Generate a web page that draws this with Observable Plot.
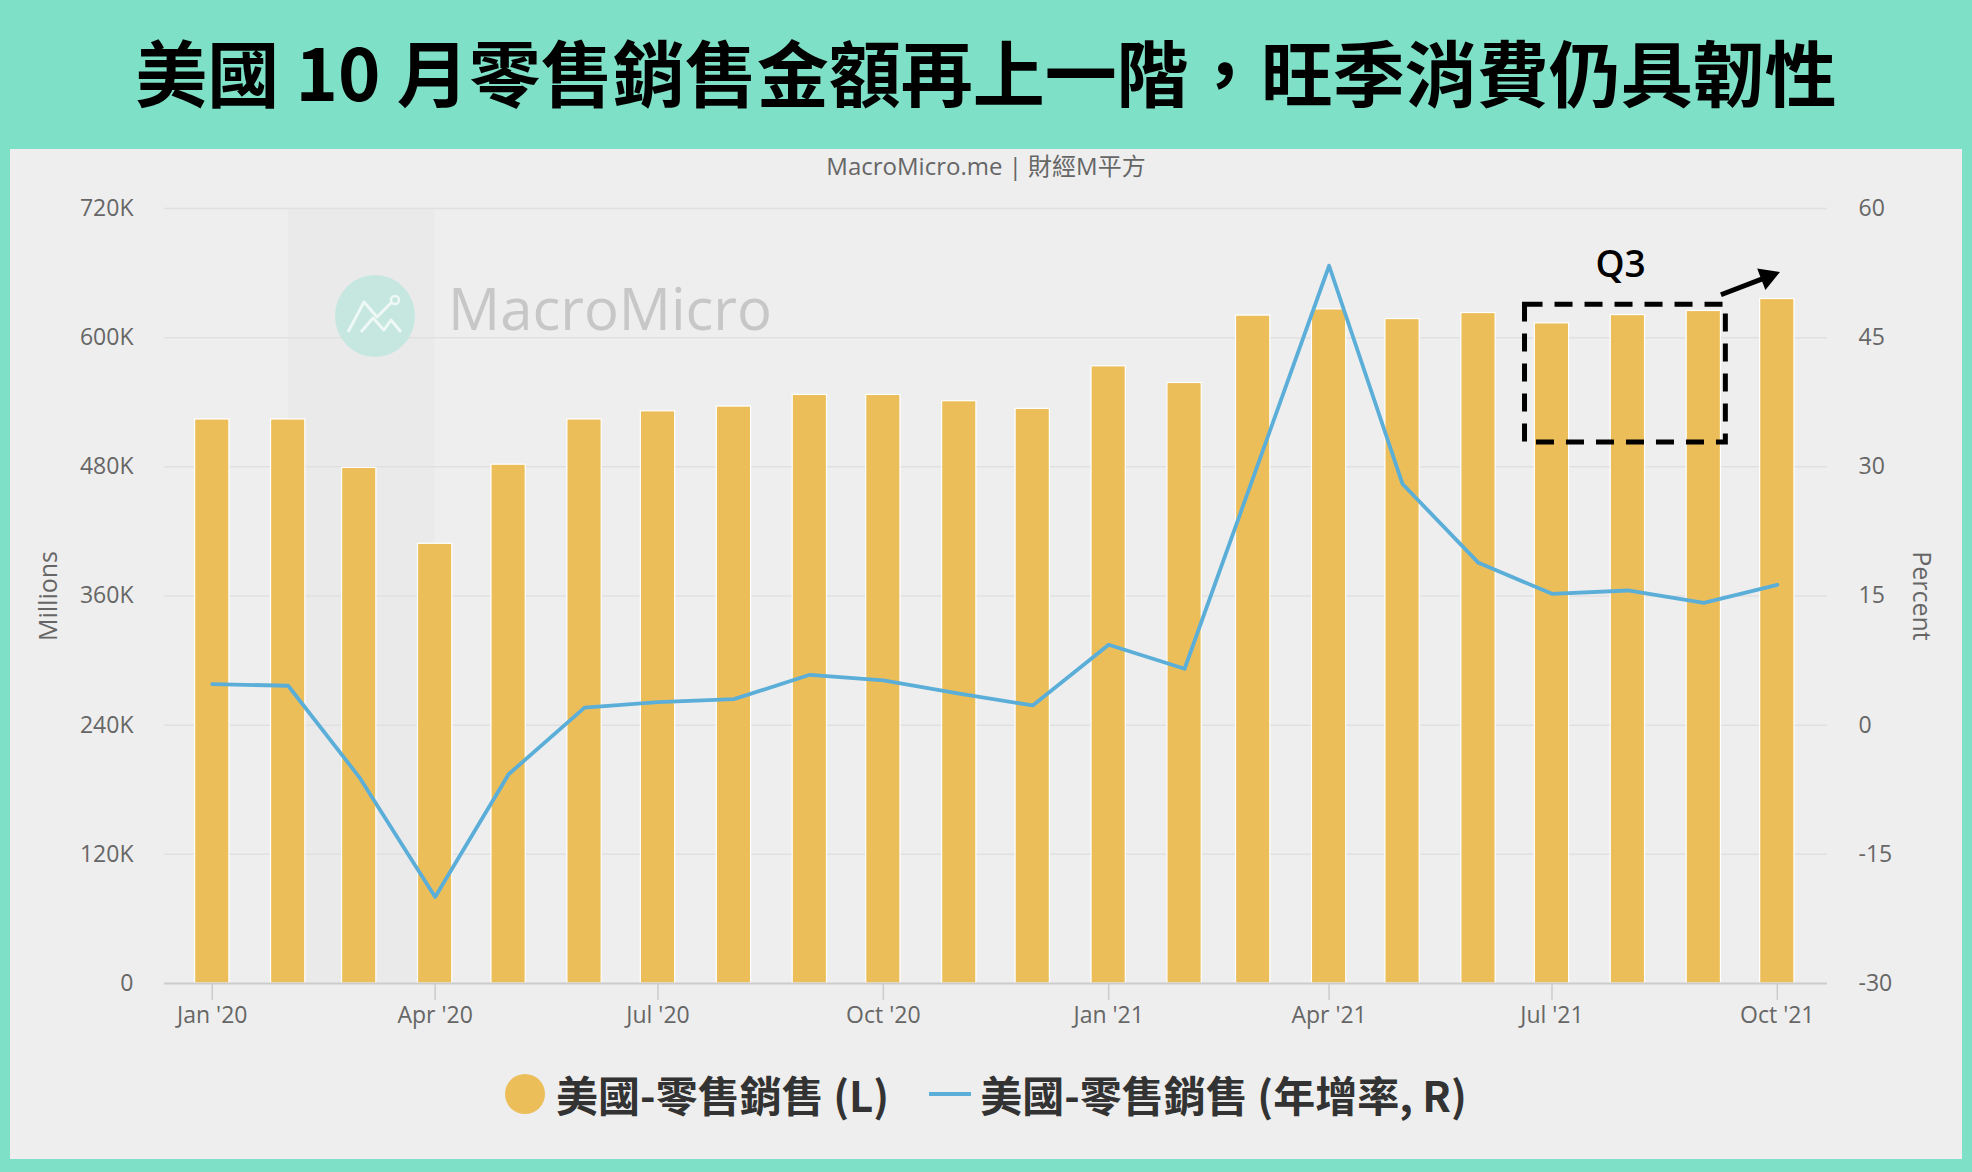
<!DOCTYPE html>
<html>
<head>
<meta charset="utf-8">
<script src="https://cdn.jsdelivr.net/npm/d3@7"></script>
<script src="https://cdn.jsdelivr.net/npm/@observablehq/plot@0.6"></script>
<style>
  html, body { margin: 0; padding: 0; }
  body { width: 1972px; height: 1172px; background: #7ee0c6; position: relative; overflow: hidden; font-family: "Open Sans", "Noto Sans CJK TC", sans-serif; }
  #title { position: absolute; left: 0; top: -5px; width: 1972px; height: 149px; display: flex; align-items: center; justify-content: center; font-family: "Noto Sans CJK TC", sans-serif; font-weight: 700; font-size: 72px; color: #000; }
  #panel { position: absolute; left: 10px; top: 149px; width: 1952px; height: 1010px; background: #eeeeee; }
  #subtitle { position: absolute; left: 0; top: 150px; width: 1972px; text-align: center; font-size: 24px; line-height: 32px; color: #666; font-family: "Open Sans", "Noto Sans CJK TC", sans-serif; }
  #chart { position: absolute; left: 10px; top: 180px; }
  #wm { position: absolute; left: 335px; top: 275px; pointer-events: none; }
  #wmtext { position: absolute; left: 448px; top: 268px; font-family: "Open Sans", sans-serif; font-size: 58px; font-weight: 400; color: rgba(150,150,150,0.45); pointer-events: none; }
  #legend { position: absolute; left: 0; top: 1063px; width: 1972px; display: flex; justify-content: center; align-items: center; font-family: "Noto Sans CJK TC", sans-serif; font-weight: 700; font-size: 42px; color: #333; }
  .sw-dot { width: 40px; height: 40px; border-radius: 50%; background: #ecbe5a; margin-right: 11px; }
  .sw-line { width: 42px; height: 4px; background: #5aaed8; margin-left: 40px; margin-right: 9px; }
</style>
</head>
<body>
<div id="title">美國 10 月零售銷售金額再上一階，旺季消費仍具韌性</div>
<div id="panel"></div>
<div id="subtitle">MacroMicro.me | 財經M平方</div>
<div id="chart"></div>
<svg id="wm" width="80" height="82" viewBox="-40 -41 80 82">
  <ellipse cx="0" cy="0" rx="40" ry="41" fill="#c5e7df"/>
  <polyline points="-27,16 -11,-14 2,1 17,-14" fill="none" stroke="#eef8f5" stroke-width="3" stroke-linejoin="round"/>
  <circle cx="20" cy="-16" r="4" fill="none" stroke="#eef8f5" stroke-width="2.5"/>
  <polyline points="-14,16 -2,2 9,14 16,4 26,16" fill="none" stroke="#eef8f5" stroke-width="3" stroke-linejoin="round"/>
</svg>
<div id="wmtext">MacroMicro</div>
<div id="legend">
  <div class="sw-dot"></div><span>美國-零售銷售 (L)</span>
  <div class="sw-line"></div><span>美國-零售銷售 (年增率, R)</span>
</div>
<script>
// ---- data ----
const months = ["2020-01-01","2020-02-01","2020-03-01","2020-04-01","2020-05-01","2020-06-01",
  "2020-07-01","2020-08-01","2020-09-01","2020-10-01","2020-11-01","2020-12-01",
  "2021-01-01","2021-02-01","2021-03-01","2021-04-01","2021-05-01","2021-06-01",
  "2021-07-01","2021-08-01","2021-09-01","2021-10-01"];
const sales = [524000, 524000, 479000, 408500, 482000, 524000,
  531600, 536000, 546800, 546800, 541000, 533800,
  573400, 557900, 620500, 626300, 617300, 622900,
  613300, 621000, 624800, 635900];
const yoy = [4.77, 4.58, -6.03, -19.95, -5.7, 2.03,
  2.67, 3.02, 5.85, 5.19, 3.65, 2.29,
  9.34, 6.55, 28.75, 53.35, 28.0, 18.85,
  15.25, 15.64, 14.2, 16.3];
const xTicks = ["2020-01-01","2020-04-01","2020-07-01","2020-10-01","2021-01-01","2021-04-01","2021-07-01","2021-10-01"];
const leftTicks = [0, 120000, 240000, 360000, 480000, 600000, 720000];
const rightTicks = [-30, -15, 0, 15, 30, 45, 60];
const xDomain = ["2019-12-12T12:00Z", "2021-10-21T12:00Z"];
const leftDomain = [0, 720000];
const rightDomain = [-30, 60];
const band = [{start: "2020-02-01", end: "2020-04-01"}];
const q3Box = [{start: "2021-06-20", end: "2021-09-10", low: 502600, high: 630600}];
const q3Label = [{date: "2021-07-29", value: 667000, text: "Q3"}];
const arrowPath = [{from: "2021-09-08", fromV: 639900, to: "2021-09-27", toV: 656500}];

// ---- helpers ----
const parse = s => new Date(s.length > 10 ? s : s + "T00:00:00Z");
const toLeft = p => (p - rightDomain[0]) / (rightDomain[1] - rightDomain[0]) * (leftDomain[1] - leftDomain[0]) + leftDomain[0];
const toRight = v => (v - leftDomain[0]) / (leftDomain[1] - leftDomain[0]) * (rightDomain[1] - rightDomain[0]) + rightDomain[0];
const halfBar = 7; // days

const data = months.map((m, i) => ({date: parse(m), sales: sales[i], yoy: yoy[i], yoyL: toLeft(yoy[i])}));
const fmtMonth = d3.utcFormat("%b '%y");

const chart = Plot.plot({
  width: 1952,
  height: 860,
  marginTop: 28,
  marginBottom: 57,
  marginLeft: 154,
  marginRight: 135,
  style: {background: "transparent", fontFamily: "'Open Sans', sans-serif", fontSize: "23px", color: "#666"},
  x: {type: "utc", domain: xDomain.map(parse)},
  y: {domain: leftDomain},
  marks: [
    Plot.rect(band, {x1: d => parse(d.start), x2: d => parse(d.end), y1: leftDomain[0], y2: leftDomain[1], fill: "#000", fillOpacity: 0.016}),
    Plot.ruleY(leftTicks.filter(t => t > 0), {stroke: "#e0e0e0", strokeWidth: 1.5}),
    Plot.rectY(data, {
      x1: d => d3.utcDay.offset(d.date, -halfBar),
      x2: d => d3.utcDay.offset(d.date, halfBar),
      y1: 0, y2: "sales",
      fill: "#ecbe5a", stroke: "#ffffff", strokeWidth: 1.2
    }),
    Plot.ruleY([0], {stroke: "#cccccc", strokeWidth: 2}),
    Plot.line(data, {x: "date", y: "yoyL", stroke: "#5aaed8", strokeWidth: 3.8, strokeLinejoin: "round", strokeLinecap: "round"}),
    Plot.axisX(xTicks.map(parse), {tickFormat: fmtMonth, tickSize: 17, tickPadding: 6, stroke: "#cccccc", strokeWidth: 1.5, fill: "#666", label: null}),
    Plot.axisY(leftTicks, {anchor: "left", tickSize: 0, tickPadding: 31, tickFormat: v => v === 0 ? "0" : (v / 1000) + "K", label: null}),
    Plot.axisY(rightTicks.map(toLeft), {anchor: "right", tickSize: 0, tickPadding: 31, textAnchor: "start", tickFormat: v => String(Math.round(toRight(v))), label: null}),
    Plot.text(["Millions"], {frameAnchor: "left", dx: -116, rotate: -90, textAnchor: "middle", fontSize: 25, fill: "#666"}),
    Plot.text(["Percent"], {frameAnchor: "right", dx: 93, rotate: 90, textAnchor: "middle", fontSize: 25, fill: "#666"}),
    // annotations
    Plot.rect(q3Box, {x1: d => parse(d.start), x2: d => parse(d.end), y1: "low", y2: "high", fill: "none", stroke: "#000", strokeWidth: 5, strokeDasharray: "18,12"}),
    Plot.text(q3Label, {x: d => parse(d.date), y: "value", text: "text", fontSize: 37, fontWeight: 600, fill: "#000"}),
    Plot.link(arrowPath, {x1: d => parse(d.from), y1: "fromV", x2: d => parse(d.to), y2: "toV", stroke: "#000", strokeWidth: 5}),
    Plot.dot(arrowPath, {x: d => parse(d.to), y: "toV", symbol: "triangle2", r: 11, fill: "#000", rotate: 69})
  ]
});
document.getElementById("chart").appendChild(chart);
</script>
</body>
</html>
